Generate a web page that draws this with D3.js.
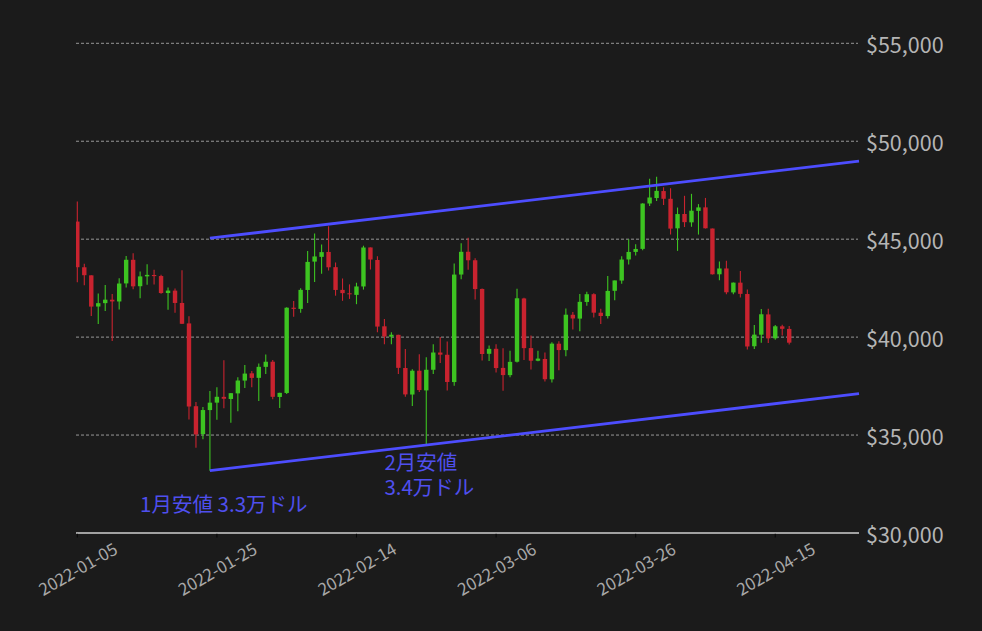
<!DOCTYPE html>
<html>
<head>
<meta charset="utf-8">
<script src="https://cdn.jsdelivr.net/npm/d3@7"></script>
<style>
  html, body { margin: 0; padding: 0; background: #1b1b1b; }
  svg { display: block; }
  text { font-family: "Noto Sans CJK JP", "Noto Sans", sans-serif; }
</style>
</head>
<body>
<svg id="chart" width="982" height="631"></svg>
<script>
const dates = [
  "2022-01-05","2022-01-06","2022-01-07","2022-01-08","2022-01-09","2022-01-10","2022-01-11","2022-01-12","2022-01-13","2022-01-14",
  "2022-01-15","2022-01-16","2022-01-17","2022-01-18","2022-01-19","2022-01-20","2022-01-21","2022-01-22","2022-01-23","2022-01-24",
  "2022-01-25","2022-01-26","2022-01-27","2022-01-28","2022-01-29","2022-01-30","2022-01-31",
  "2022-02-01","2022-02-02","2022-02-03","2022-02-04","2022-02-05","2022-02-06","2022-02-07","2022-02-08","2022-02-09","2022-02-10",
  "2022-02-11","2022-02-12","2022-02-13","2022-02-14","2022-02-15","2022-02-16","2022-02-17","2022-02-18","2022-02-19","2022-02-20",
  "2022-02-21","2022-02-22","2022-02-23","2022-02-24","2022-02-25","2022-02-26","2022-02-27","2022-02-28",
  "2022-03-01","2022-03-02","2022-03-03","2022-03-04","2022-03-05","2022-03-06","2022-03-07","2022-03-08","2022-03-09","2022-03-10",
  "2022-03-11","2022-03-12","2022-03-13","2022-03-14","2022-03-15","2022-03-16","2022-03-17","2022-03-18","2022-03-19","2022-03-20",
  "2022-03-21","2022-03-22","2022-03-23","2022-03-24","2022-03-25","2022-03-26","2022-03-27","2022-03-28","2022-03-29","2022-03-30","2022-03-31",
  "2022-04-01","2022-04-02","2022-04-03","2022-04-04","2022-04-05","2022-04-06","2022-04-07","2022-04-08","2022-04-09","2022-04-10",
  "2022-04-11","2022-04-12","2022-04-13","2022-04-14","2022-04-15","2022-04-16","2022-04-17"
];
const openPrices = [
  45899,43566,43154,41561,41735,41910,41820,42742,43947,42599,43102,43172,43118,42250,42374,41744,40700,36472,35047,36276,36655,36951,36842,37128,37781,38152,37920,
  38482,38744,36945,37149,41501,41441,42407,43855,44097,44348,43571,42412,42237,42157,42586,44578,43937,40552,40022,40118,38423,37069,38285,37279,38334,39213,39099,37706,
  43195,44358,43925,42458,39148,39404,38429,38060,38743,41974,39440,38794,38885,37846,39664,39336,41141,40945,41795,42191,41246,41074,42364,42887,43965,44350,44505,46822,47100,47457,47062,
  45554,46286,45859,46445,46625,45544,43208,43505,42282,42781,42201,39534,40124,41160,39939,40552,40418
];
const highPrices = [
  46929,43749,43154,42229,42664,42199,43001,44135,44278,43347,43725,43437,43179,42534,42478,43413,41061,36689,36433,37248,37445,38825,37148,37953,38576,38266,38647,
  39115,38835,37155,41528,41847,42501,44402,45294,44728,45661,43811,42993,42693,42776,44667,44578,44133,40929,40246,40120,39394,38360,39122,38969,39630,40005,39779,43760,
  44794,45078,44022,42480,39566,39640,39430,39304,42466,42005,40082,39309,39209,39743,39795,41465,41288,42196,42317,42241,41454,43125,42894,44132,44999,44735,46828,48087,48190,47655,47601,
  46616,47214,47314,46791,47106,45544,43861,43903,42786,43376,42425,40618,41430,41451,40618,40634,40571
];
const lowPrices = [
  42798,42646,41077,40673,41338,39797,41408,42529,42447,41983,42669,42691,42219,41392,41243,40672,35791,34349,34785,33184,35779,36375,35629,36211,37406,37438,36734,
  38114,36833,36376,37094,41038,41245,41748,42808,43233,43403,42115,41853,41951,41682,42427,43457,40249,39638,39639,38113,36950,36489,37202,34459,38111,38677,37269,37518,
  42953,43433,41915,38806,38777,38200,37260,37957,38706,38833,38347,38773,37728,37681,38310,39022,40393,40302,41603,41005,40668,40948,41878,42726,43706,44166,44437,46690,46951,46746,45241,
  44403,45620,45634,45236,45545,43194,42900,42183,42183,42021,39373,39388,39713,39696,39867,40078,39621
];
const closePrices = [
  43569,43161,41558,41734,41912,41821,42736,43949,42592,43100,43177,43114,42251,42376,41744,40680,36457,35030,36277,36654,36954,36852,37138,37784,38138,37918,38483,
  38743,36953,37155,41501,41441,42412,43840,44118,44339,43565,42408,42244,42198,42587,44575,43962,40538,40031,40122,38431,37075,38286,37297,38333,39214,39105,37710,43193,
  44355,43924,42452,39138,39401,38420,38062,38737,41983,39437,38795,38904,37850,39667,39339,41144,40951,41801,42191,41248,41077,42359,42893,43961,44349,44501,46820,47128,47466,47063,45539,
  46282,45869,46454,46623,45556,43207,43504,42288,42782,42208,39522,40127,41167,39936,40553,40424,39717
];

const xTickLabels = ["2022-01-05","2022-01-25","2022-02-14","2022-03-06","2022-03-26","2022-04-15"];
const yTickValues = [30000, 35000, 40000, 45000, 50000, 55000];

// Channel lines: [date, price] endpoints
const lowerLineDates = ["2022-01-24", "2022-04-27"];
const lowerLinePrices = [33184, 37110];
const upperLineDates = ["2022-01-24", "2022-04-27"];
const upperLinePrices = [45050, 48985];

const annotationTexts = ["1月安値 3.3万ドル", "2月安値", "3.4万ドル"];
const annotationDates = ["2022-01-14", "2022-02-18", "2022-02-18"];
const annotationPrices = [31050, 33200, 31920];

// ---------- drawing ----------
(function () {
const parse = d3.utcParse("%Y-%m-%d");
const svg = d3.select("#chart");
const W = 982, H = 631;
const pL = 76, pR = 859, pT = 43.3, pB = 533;

svg.append("rect").attr("width", W).attr("height", H).attr("fill", "#1b1b1b");

const x = d3.scaleUtc()
  .domain([new Date(Date.UTC(2022, 0, 4, 19, 30)), new Date(Date.UTC(2022, 3, 27))])
  .range([pL, pR]);
const y = d3.scaleLinear().domain([30000, 55000]).range([pB, pT]);

const fmt = d3.format("$,.0f");

// grid
svg.append("g").selectAll("line")
  .data(yTickValues.filter(v => v > 30000))
  .join("line")
  .attr("x1", pL).attr("x2", pR - 1)
  .attr("y1", d => y(d)).attr("y2", d => y(d))
  .attr("stroke", "#b8b8b8").attr("stroke-width", 0.8)
  .attr("stroke-dasharray", "3,2");

// candles
const candles = dates.map((d, i) => ({
  date: parse(d), o: openPrices[i], h: highPrices[i], l: lowPrices[i], c: closePrices[i]
}));
svg.append("clipPath").attr("id", "plotclip")
  .append("rect").attr("x", pL).attr("y", 0).attr("width", pR - pL).attr("height", pB);

const up = "#3dc421", down = "#c9232f";
const bw = 4.4;
const cg = svg.append("g").attr("clip-path", "url(#plotclip)");
const cs = cg.selectAll("g").data(candles).join("g");
cs.append("line")
  .attr("x1", d => x(d.date)).attr("x2", d => x(d.date))
  .attr("y1", d => y(d.h)).attr("y2", d => y(d.l))
  .attr("stroke", d => d.c >= d.o ? up : down).attr("stroke-width", 1.1);
cs.append("rect")
  .attr("x", d => x(d.date) - bw / 2)
  .attr("width", bw)
  .attr("y", d => y(Math.max(d.o, d.c)))
  .attr("height", d => Math.max(1, Math.abs(y(d.o) - y(d.c))))
  .attr("fill", d => d.c >= d.o ? up : down);

// channel lines
const lineGen = d3.line().x(d => x(d[0])).y(d => y(d[1]));
svg.append("path")
  .attr("d", lineGen(lowerLineDates.map((d, i) => [parse(d), lowerLinePrices[i]])))
  .attr("stroke", "#4d4dff").attr("stroke-width", 2.8).attr("fill", "none");
svg.append("path")
  .attr("d", lineGen(upperLineDates.map((d, i) => [parse(d), upperLinePrices[i]])))
  .attr("stroke", "#4d4dff").attr("stroke-width", 2.8).attr("fill", "none");

// bottom spine
svg.append("line")
  .attr("x1", pL).attr("x2", pR).attr("y1", pB).attr("y2", pB)
  .attr("stroke", "#cfcfcf").attr("stroke-width", 1.5);

// x ticks
const xg = svg.append("g");
xTickLabels.forEach(t => {
  const xp = x(parse(t));
  xg.append("line").attr("x1", xp).attr("x2", xp).attr("y1", pB + 0.75).attr("y2", pB + 4.5)
    .attr("stroke", "#050505").attr("stroke-width", 1);
  xg.append("text")
    .attr("transform", `translate(${xp},${568}) rotate(-30)`)
    .attr("text-anchor", "middle").attr("dominant-baseline", "central")
    .attr("font-size", 17).attr("fill", "#a8a8a8")
    .text(t);
});

// y labels
svg.append("g").selectAll("text").data(yTickValues).join("text")
  .attr("x", 866).attr("y", d => y(d))
  .attr("dominant-baseline", "central")
  .attr("font-size", 21.5).attr("fill", "#b5b5b5")
  .text(d => fmt(d));

// annotations
annotationTexts.forEach((t, i) => {
  svg.append("text")
    .attr("x", x(parse(annotationDates[i]))).attr("y", y(annotationPrices[i]))
    .attr("font-size", 20.5).attr("fill", "#4f4fee")
    .text(t);
});
})();
</script>
</body>
</html>
